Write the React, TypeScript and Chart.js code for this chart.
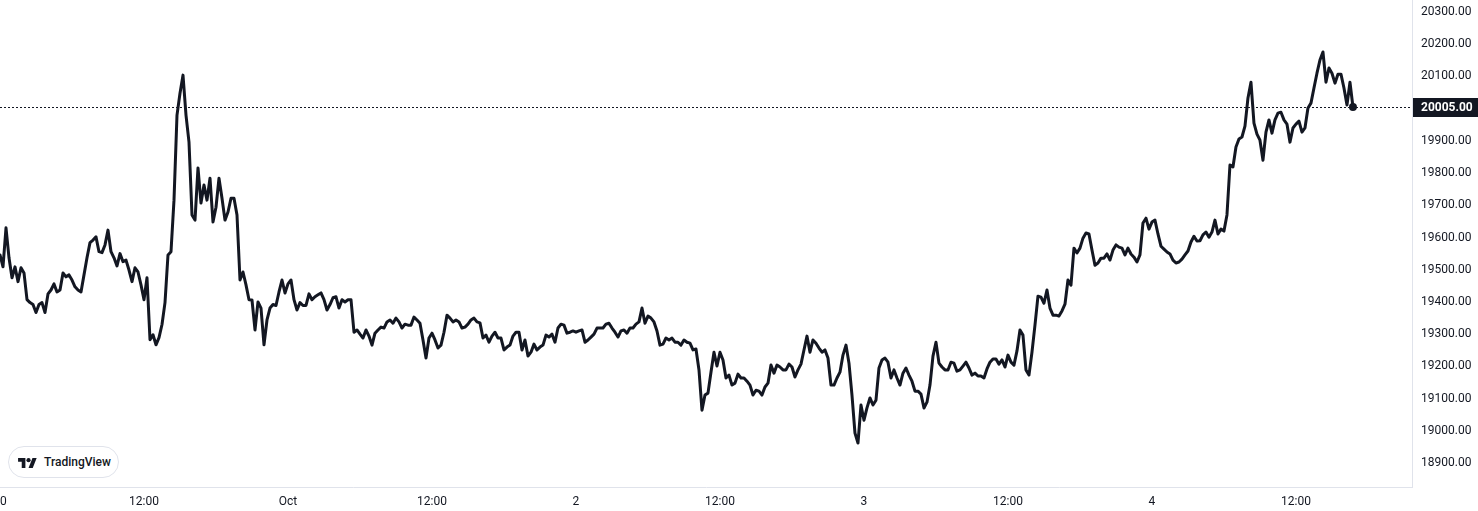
import React, { useEffect, useRef } from "react";
import { Chart, registerables } from "chart.js";

Chart.register(...registerables);

// 15-minute closes, starting Sep 30 00:00
const PRICES: number[] = [
  19546, 19509, 19630, 19537, 19475, 19509, 19463, 19506, 19490, 19407, 19398, 19392,
  19367, 19392, 19398, 19367, 19425, 19437, 19456, 19431, 19437, 19490, 19478, 19484,
  19468, 19447, 19437, 19431, 19484, 19537, 19584, 19592, 19602, 19556, 19553, 19577,
  19623, 19556, 19537, 19512, 19550, 19525, 19530, 19499, 19463, 19506, 19493, 19453,
  19407, 19475, 19283, 19298, 19267, 19289, 19330, 19398, 19546, 19556, 19716, 19980,
  20048, 20104, 19980, 19896, 19670, 19654, 19816, 19707, 19763, 19716, 19784, 19648,
  19694, 19784, 19722, 19654, 19679, 19722, 19722, 19670, 19468, 19493, 19453, 19407,
  19406, 19313, 19400, 19381, 19267, 19344, 19381, 19392, 19389, 19431, 19468, 19428,
  19456, 19468, 19407, 19375, 19398, 19389, 19389, 19425, 19407, 19416, 19422, 19428,
  19407, 19375, 19392, 19413, 19416, 19381, 19407, 19400, 19407, 19407, 19306, 19313,
  19300, 19288, 19313, 19294, 19266, 19303, 19313, 19322, 19319, 19338, 19344, 19334,
  19350, 19338, 19319, 19331, 19328, 19328, 19353, 19344, 19334, 19282, 19226, 19288,
  19303, 19282, 19257, 19266, 19306, 19359, 19350, 19338, 19344, 19338, 19319, 19322,
  19331, 19344, 19350, 19338, 19335, 19288, 19297, 19275, 19294, 19306, 19288, 19288,
  19251, 19260, 19266, 19294, 19306, 19306, 19251, 19282, 19232, 19244, 19269, 19251,
  19260, 19266, 19297, 19291, 19300, 19275, 19319, 19331, 19328, 19303, 19306, 19310,
  19306, 19310, 19313, 19275, 19282, 19291, 19300, 19319, 19319, 19319, 19331, 19334,
  19319, 19306, 19291, 19310, 19313, 19303, 19319, 19319, 19331, 19338, 19381, 19334,
  19356, 19350, 19338, 19310, 19266, 19269, 19288, 19282, 19288, 19275, 19275, 19266,
  19282, 19275, 19272, 19251, 19254, 19189, 19064, 19111, 19117, 19182, 19244, 19201,
  19244, 19220, 19164, 19173, 19142, 19148, 19176, 19164, 19164, 19154, 19142, 19111,
  19126, 19123, 19111, 19136, 19148, 19204, 19179, 19204, 19198, 19189, 19189, 19207,
  19198, 19167, 19189, 19207, 19251, 19294, 19244, 19282, 19272, 19257, 19244, 19251,
  19226, 19142, 19142, 19164, 19182, 19235, 19266, 19210, 19111, 18993, 18962, 19080,
  19033, 19071, 19102, 19080, 19095, 19195, 19220, 19226, 19213, 19164, 19189, 19164,
  19142, 19179, 19195, 19173, 19154, 19123, 19123, 19114, 19071, 19089, 19142, 19232,
  19275, 19210, 19198, 19189, 19189, 19213, 19210, 19185, 19189, 19201, 19213, 19195,
  19173, 19179, 19170, 19170, 19164, 19192, 19213, 19223, 19223, 19207, 19220, 19198,
  19235, 19213, 19204, 19248, 19313, 19297, 19189, 19173, 19244, 19328, 19418, 19415,
  19396, 19437, 19381, 19359, 19359, 19356, 19372, 19393, 19468, 19452, 19567, 19552,
  19567, 19598, 19614, 19611, 19561, 19514, 19521, 19536, 19536, 19549, 19530, 19561,
  19577, 19570, 19567, 19546, 19567, 19549, 19539, 19524, 19546, 19645, 19660, 19626,
  19648, 19654, 19611, 19573, 19564, 19555, 19549, 19530, 19521, 19524, 19533, 19546,
  19558, 19586, 19604, 19589, 19590, 19608, 19617, 19601, 19617, 19654, 19611, 19626,
  19620, 19670, 19825, 19819, 19881, 19906, 19912, 19946, 20033, 20082, 19955, 19921,
  19902, 19840, 19927, 19965, 19924, 19965, 19986, 19989, 19965, 19952, 19896, 19940,
  19952, 19961, 19927, 19940, 20002, 20017, 20064, 20110, 20151, 20176, 20082, 20126,
  20110, 20079, 20107, 20107, 20064, 20011, 20082, 20005,
];

const BAR_HOURS = 0.25;
const X_TICK_HOURS: number[] = [0, 12, 24, 36, 48, 60, 72, 84, 96, 108];
const X_TICK_LABELS: string[] = ["30", "12:00", "Oct", "12:00", "2", "12:00", "3", "12:00", "4", "12:00"];
const Y_TICKS: number[] = [
  18900, 19000, 19100, 19200, 19300, 19400, 19500, 19600, 19700, 19800, 19900, 20100, 20200, 20300,
];
const LAST_PRICE = 20005;
const Y_MIN = 18825.6;
const Y_MAX = 20337.2;
const X_MIN = 0;
const X_MAX = 117.67;

const INK = "#131722";
const BORDER = "#e0e3eb";
const FONT = "Roboto";

const lastPricePlugin = {
  id: "lastPrice",
  beforeDatasetsDraw(chart: any) {
    const { ctx, chartArea } = chart;
    const y = Math.round(chart.scales.y.getPixelForValue(LAST_PRICE)) + 0.5;
    ctx.save();
    ctx.strokeStyle = INK;
    ctx.lineWidth = 1;
    ctx.setLineDash([2, 2]);
    ctx.beginPath();
    ctx.moveTo(chartArea.left, y);
    ctx.lineTo(chartArea.right, y);
    ctx.stroke();
    ctx.restore();
  },
  afterDraw(chart: any) {
    const { ctx, chartArea, width } = chart;
    const y = Math.round(chart.scales.y.getPixelForValue(LAST_PRICE));
    ctx.save();
    ctx.fillStyle = INK;
    ctx.fillRect(chartArea.right + 1, y - 9, width - chartArea.right - 1, 19);
    ctx.fillStyle = "#ffffff";
    ctx.font = `bold 12px ${FONT}`;
    ctx.textBaseline = "middle";
    ctx.textAlign = "left";
    ctx.fillText(LAST_PRICE.toFixed(2), chartArea.right + 9, y + 0.5);
    ctx.restore();
  },
};

export default function App() {
  const canvasRef = useRef<HTMLCanvasElement | null>(null);

  useEffect(() => {
    if (!canvasRef.current) return;
    const last = PRICES.length - 1;
    const chart = new Chart(canvasRef.current, {
      type: "line",
      data: {
        datasets: [
          {
            data: PRICES.map((p, i) => ({ x: i * BAR_HOURS, y: p })),
            borderColor: INK,
            borderWidth: 3,
            borderJoinStyle: "round",
            borderCapStyle: "round",
            tension: 0,
            pointRadius: (c: any) => (c.dataIndex === last ? 4 : 0),
            pointHoverRadius: 0,
            pointBackgroundColor: INK,
            pointBorderWidth: 0,
            clip: false,
          } as any,
        ],
      },
      options: {
        animation: false,
        responsive: false,
        devicePixelRatio: 1,
        layout: { padding: 0, autoPadding: false },
        plugins: { legend: { display: false }, tooltip: { enabled: false } },
        scales: {
          x: {
            type: "linear",
            min: X_MIN,
            max: X_MAX,
            afterBuildTicks: (s: any) => {
              s.ticks = X_TICK_HOURS.map((v) => ({ value: v }));
            },
            afterFit: (s: any) => {
              s.height = 24;
              s.paddingLeft = 0;
              s.paddingRight = 0;
            },
            grid: { display: false, drawTicks: false },
            border: { display: true, color: BORDER },
            ticks: {
              padding: 8,
              maxRotation: 0,
              autoSkip: false,
              color: INK,
              font: { family: FONT, size: 12 },
              callback: (_v: any, i: number) => X_TICK_LABELS[i],
            },
          },
          y: {
            type: "linear",
            position: "right",
            min: Y_MIN,
            max: Y_MAX,
            afterBuildTicks: (s: any) => {
              s.ticks = Y_TICKS.map((v) => ({ value: v }));
            },
            afterFit: (s: any) => {
              s.width = 66;
              s.paddingTop = 0;
              s.paddingBottom = 0;
            },
            grid: { display: false, drawTicks: false },
            border: { display: true, color: BORDER },
            ticks: {
              padding: 9,
              autoSkip: false,
              color: INK,
              font: { family: FONT, size: 12 },
              callback: (v: any) => Number(v).toFixed(2),
            },
          },
        },
      },
      plugins: [lastPricePlugin],
    } as any);
    return () => chart.destroy();
  }, []);

  return (
    <div style={{ position: "fixed", left: 0, top: 0, width: 1478, height: 511, background: "#fff" }}>
      <canvas ref={canvasRef} width={1478} height={511} style={{ display: "block" }} />
      <div
        style={{
          position: "absolute",
          left: 8,
          top: 446,
          width: 111,
          height: 32,
          boxSizing: "border-box",
          border: `1px solid ${BORDER}`,
          borderRadius: 16,
          background: "#fff",
          display: "flex",
          alignItems: "center",
          paddingLeft: 9,
        }}
      >
        <svg width="19" height="11" viewBox="0 0 36 21" style={{ display: "block" }}>
          <path d="M14 21H7V9H0V2h14v19z" fill={INK} />
          <circle cx="20" cy="6" r="4" fill={INK} />
          <path d="M28 21h-8l7.5-19h8L28 21z" fill={INK} />
        </svg>
        <span
          style={{
            marginLeft: 7,
            fontFamily: "Roboto, sans-serif",
            fontWeight: 500,
            fontSize: 12,
            color: INK,
          }}
        >
          TradingView
        </span>
      </div>
    </div>
  );
}
